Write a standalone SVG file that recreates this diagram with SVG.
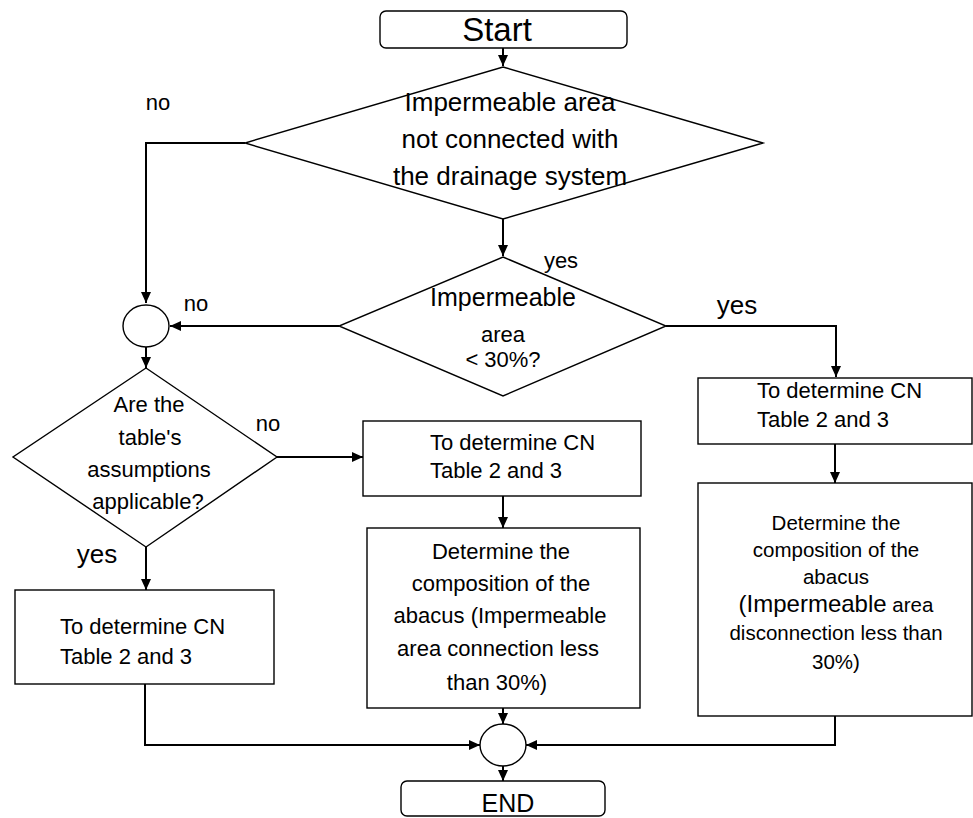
<svg xmlns="http://www.w3.org/2000/svg" width="973" height="818" viewBox="0 0 973 818">
<style>
text{font-family:"Liberation Sans",Arial,sans-serif;fill:#000}
.shape{fill:#fff;stroke:#000;stroke-width:1.4}
.conn{fill:none;stroke:#000;stroke-width:2}
.c{text-anchor:middle}
</style>
<defs>
<marker id="arr" markerUnits="userSpaceOnUse" markerWidth="12" markerHeight="10" refX="11" refY="5" orient="auto">
<path d="M0,0 L11,5 L0,10 Z" fill="#000"/>
</marker>
</defs>
<rect width="973" height="818" fill="#fff"/>
<g id="connectors">
<path class="conn" d="M503 48 V66" marker-end="url(#arr)"/>
<path class="conn" d="M245 143 H146 V303" marker-end="url(#arr)"/>
<path class="conn" d="M503 219 V256" marker-end="url(#arr)"/>
<path class="conn" d="M339 326 H170" marker-end="url(#arr)"/>
<path class="conn" d="M666 326 H836 V377" marker-end="url(#arr)"/>
<path class="conn" d="M146 347 V368" marker-end="url(#arr)"/>
<path class="conn" d="M277 457 H363" marker-end="url(#arr)"/>
<path class="conn" d="M146 547 V590" marker-end="url(#arr)"/>
<path class="conn" d="M503 496 V528" marker-end="url(#arr)"/>
<path class="conn" d="M835 444 V483" marker-end="url(#arr)"/>
<path class="conn" d="M145 684 V745 H480" marker-end="url(#arr)"/>
<path class="conn" d="M503 708 V724" marker-end="url(#arr)"/>
<path class="conn" d="M835 685 V745 H526" marker-end="url(#arr)"/>
<path class="conn" d="M503 766 V781" marker-end="url(#arr)"/>
</g>
<g id="labels">
<text x="158" y="110" class="c" font-size="22">no</text>
<text x="196" y="311" class="c" font-size="22">no</text>
<text x="561" y="268" class="c" font-size="22">yes</text>
<text x="737" y="314" class="c" font-size="26">yes</text>
<text x="268" y="431" class="c" font-size="22">no</text>
<text x="97" y="563" class="c" font-size="26">yes</text>
</g>
<g id="start">
<rect class="shape" x="380" y="11" width="247" height="37" rx="6"/>
<text x="497" y="41" class="c" font-size="33">Start</text>
</g>
<g id="decision1">
<polygon class="shape" points="503,67 763,143 503,219 245,143"/>
<text x="510" y="111" class="c" font-size="26">Impermeable area</text>
<text x="510" y="148" class="c" font-size="26">not connected with</text>
<text x="510" y="185" class="c" font-size="26">the drainage system</text>
</g>
<g id="decision2">
<polygon class="shape" points="503,257 666,326 503,396 339,326"/>
<text x="503" y="306" class="c" font-size="25">Impermeable</text>
<text x="503" y="342" class="c" font-size="22">area</text>
<text x="503" y="367" class="c" font-size="22">&lt; 30%?</text>
</g>
<g id="merge1">
<ellipse class="shape" cx="146" cy="326" rx="23" ry="21"/>
</g>
<g id="decision3">
<polygon class="shape" points="146,368 277,457 146,547 13,457"/>
<text x="149" y="412" class="c" font-size="22">Are the</text>
<text x="150" y="445" class="c" font-size="22">table's</text>
<text x="149" y="477" class="c" font-size="22">assumptions</text>
<text x="148" y="509" class="c" font-size="22">applicable?</text>
</g>
<g id="box-left">
<rect class="shape" x="15" y="590" width="259" height="94"/>
<text x="60" y="634" font-size="22">To determine CN</text>
<text x="60" y="664" font-size="22">Table 2 and 3</text>
</g>
<g id="box-mid-top">
<rect class="shape" x="363" y="421" width="278" height="75"/>
<text x="430" y="450" font-size="22">To determine CN</text>
<text x="430" y="478" font-size="22">Table 2 and 3</text>
</g>
<g id="box-mid-bottom">
<rect class="shape" x="367" y="528" width="273" height="180"/>
<text x="501" y="559" class="c" font-size="22">Determine the</text>
<text x="501" y="591" class="c" font-size="22">composition of the</text>
<text x="500" y="623" class="c" font-size="22">abacus (Impermeable</text>
<text x="498" y="656" class="c" font-size="22">area connection less</text>
<text x="497" y="690" class="c" font-size="22">than 30%)</text>
</g>
<g id="box-right-top">
<rect class="shape" x="698" y="378" width="274" height="66"/>
<text x="757" y="398" font-size="22">To determine CN</text>
<text x="757" y="427" font-size="22">Table 2 and 3</text>
</g>
<g id="box-right-bottom">
<rect class="shape" x="698" y="483" width="274" height="233"/>
<text x="836" y="530" class="c" font-size="20.5">Determine the</text>
<text x="836" y="557" class="c" font-size="20.5">composition of the</text>
<text x="836" y="584" class="c" font-size="20.5">abacus</text>
<text x="836" y="612" class="c" font-size="20.5"><tspan font-size="24">(Impermeable</tspan> area</text>
<text x="836" y="640" class="c" font-size="20.5">disconnection less than</text>
<text x="836" y="669" class="c" font-size="20.5">30%)</text>
</g>
<g id="merge2">
<ellipse class="shape" cx="503" cy="745" rx="23" ry="21"/>
</g>
<g id="end">
<rect class="shape" x="401" y="781" width="204" height="35" rx="6"/>
<text x="508" y="812" class="c" font-size="25">END</text>
</g>
</svg>
